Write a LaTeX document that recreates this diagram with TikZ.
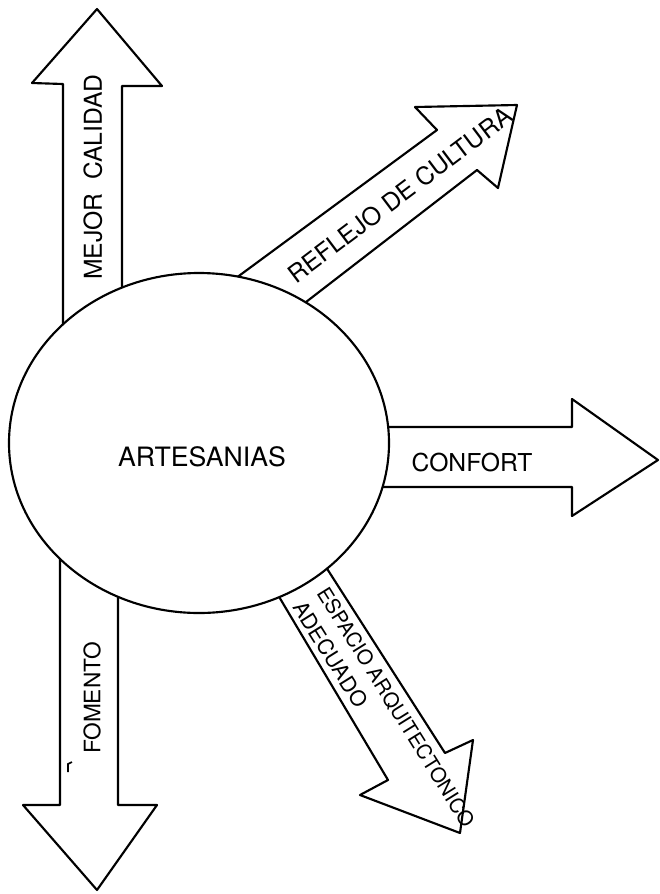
\documentclass[tikz,border=0pt]{standalone}
\usepackage{fontspec}
\setmainfont{TeX Gyre Heros}

\begin{document}
\begin{tikzpicture}[x=0.75pt,y=0.75pt,yscale=-1,xscale=1,
  flecha/.style={line width=1.6pt, fill=white, line join=round},
  rotulo/.style={inner sep=0pt}]
\useasboundingbox (0,0) rectangle (660,894);
%Flechas
\draw [flecha] (63,400) -- (63,84) -- (32,83) -- (97,9) -- (162,86) -- (122,86) -- (122,400) -- cycle ;
\draw [flecha] (60,500) -- (60,805) -- (23,805) -- (97,890) -- (157,805) -- (118,805) -- (118,500) -- cycle ;
\draw [flecha] (300,427) -- (572,427) -- (572,399) -- (658,460) -- (572,516) -- (572,487) -- (300,487) -- cycle ;
\draw [flecha] (194,309) -- (437,130) -- (415,107) -- (517,105) -- (498,188) -- (477,170) -- (262,336) -- cycle ;
\draw [flecha] (256,558) -- (388,780) -- (360,795) -- (460,833) -- (473,740) -- (445,753) -- (301,528) -- cycle ;
%Circulo
\draw [flecha] (9,443) .. controls (9,349.1) and (94.1,273) .. (199,273) .. controls (303.9,273) and (389,349.1) .. (389,443) .. controls (389,536.9) and (303.9,613) .. (199,613) .. controls (94.1,613) and (9,536.9) .. (9,443) -- cycle ;
%Textos
\draw (202,457) node [rotulo, font=\fontsize{20}{24}\selectfont] (artesanias) {ARTESANIAS};
\draw (93,177) node [rotulo, rotate=90, font=\fontsize{18.5}{22}\selectfont] (mejor) {MEJOR~~CALIDAD};
\draw (400,195) node [rotulo, rotate=37, font=\fontsize{18.5}{22}\selectfont] (reflejo) {REFLEJO DE CULTURA};
\draw (472,462) node [rotulo, font=\fontsize{18.5}{22}\selectfont] (confort) {CONFORT};
\draw (316,593) node [rotulo, anchor=base west, rotate=-58, font=\fontsize{15.3}{19}\selectfont] (espacio) {ESPACIO ARQUITECTONICO};
\draw (292,607) node [rotulo, anchor=base west, rotate=-58, font=\fontsize{16}{19}\selectfont] (adecuado) {ADECUADO};
\draw (92,698) node [rotulo, rotate=90, font=\fontsize{17}{20}\selectfont] (fomento) {FOMENTO};
\draw [line width=1.2pt] (68,772) -- (68,764) -- (72,762) ;
\end{tikzpicture}
\end{document}
